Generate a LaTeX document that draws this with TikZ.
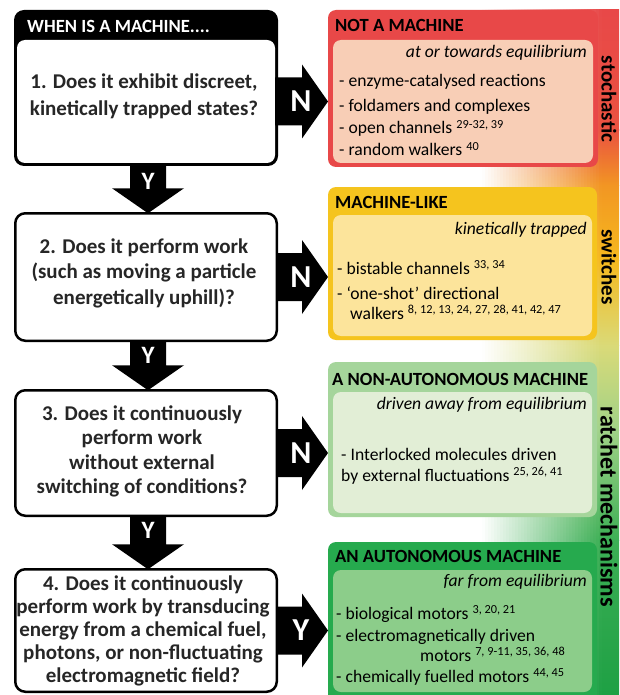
\documentclass[tikz,border=0pt]{standalone}
\usepackage{fontspec}
\setmainfont{Carlito}
\usetikzlibrary{calc}
\definecolor{redO}{RGB}{232,72,72}
\definecolor{redI}{RGB}{248,206,182}
\definecolor{ylwO}{RGB}{245,196,30}
\definecolor{ylwI}{RGB}{252,228,155}
\definecolor{lgrO}{RGB}{165,213,155}
\definecolor{lgrI}{RGB}{226,238,214}
\definecolor{grnO}{RGB}{38,170,78}
\definecolor{grnI}{RGB}{140,205,138}
\definecolor{sA}{RGB}{232,72,72}
\definecolor{sB}{RGB}{234,82,64}
\definecolor{sC}{RGB}{242,150,35}
\definecolor{sD}{RGB}{245,185,30}
\definecolor{sE}{RGB}{218,218,120}
\definecolor{sF}{RGB}{160,210,135}
\definecolor{sG}{RGB}{60,175,85}
\definecolor{sH}{RGB}{30,160,68}
\newcommand{\sref}[1]{{\fontsize{12.3}{13}\selectfont\raisebox{0.45em}{#1}}}
\newcommand{\vblk}[2]{\fill ($(#1)+(-18,0)$) -- ($(#2)+(-18,-25)$) -- ($(#2)+(-36,-25)$) -- (#2) -- ($(#2)+(36,-25)$) -- ($(#2)+(18,-25)$) -- ($(#1)+(18,0)$) -- cycle;}
\newcommand{\hblk}[2]{\fill ($(#1)+(0,-24)$) -- ($(#2)+(-26,-24)$) -- ($(#2)+(-26,-37)$) -- (#2) -- ($(#2)+(-26,37)$) -- ($(#2)+(-26,24)$) -- ($(#1)+(0,24)$) -- cycle;}
\begin{document}
\begin{tikzpicture}[x=1pt,y=-1pt]
\tikzset{
 qbox/.style={draw=black, line width=2.5pt, fill=white, rounded corners=10pt, inner sep=0pt, outer sep=0pt},
 obox/.style={rounded corners=8pt, inner sep=0pt, outer sep=0pt, anchor=north west},
 qtxt/.style={align=center, inner sep=0pt, text=black!85},
 htxt/.style={anchor=west, inner sep=0pt, text height=14pt, text depth=2pt, font=\fontsize{18.6}{22}\selectfont\bfseries},
 stxt/.style={anchor=east, inner sep=0pt, text height=12pt, text depth=4pt, font=\fontsize{17.6}{21}\selectfont\itshape},
 itxt/.style={anchor=west, inner sep=0pt, text height=12pt, text depth=4pt, font=\fontsize{17.6}{21}\selectfont},
 lbl/.style={text=white, inner sep=0pt, font=\fontsize{32}{32}\selectfont\bfseries},
 slbl/.style={text=white, inner sep=0pt, font=\fontsize{25}{25}\selectfont\bfseries},
 side/.style={rotate=-90, inner sep=0pt, font=\fontsize{21}{21}\selectfont\bfseries}
}
\useasboundingbox (0,0) rectangle (619,695);
\fill[white] (0,0) rectangle (619,695);
% side gradient strip
\foreach \ya/\yb/\ca/\cb in {10/130/sA/sB, 130/185/sB/sC, 185/260/sC/sD, 260/345/sD/sE, 345/430/sE/sF, 430/540/sF/sG, 540/695/sG/sH}
  \fill[top color=\ca, bottom color=\cb] (470,\ya) rectangle (619,\yb+0.5);
\fill[white] (460,0) rectangle (482,695);
\foreach \i in {0,...,39}{
  \pgfmathsetmacro\op{1-(\i+0.5)/40}
  \fill[white, fill opacity=\op] ({482+3*\i},0) rectangle ({485+3*\i},695);
}
% right boxes
\node[obox, fill=redO, minimum width=270pt, minimum height=157pt] (r1) at (328,10) {};
\node[obox, fill=redI, minimum width=260pt, minimum height=123pt] (r1i) at (333,40) {};
\node[obox, fill=ylwO, minimum width=269pt, minimum height=153pt] (r2) at (328,187) {};
\node[obox, fill=ylwI, minimum width=259pt, minimum height=121pt] (r2i) at (333,215) {};
\node[obox, fill=lgrO, minimum width=269pt, minimum height=155pt] (r3) at (328,362) {};
\node[obox, fill=lgrI, minimum width=259pt, minimum height=121pt] (r3i) at (333,392) {};
\node[obox, fill=grnO, minimum width=269pt, minimum height=160pt] (r4) at (328,542) {};
\node[obox, fill=grnI, minimum width=259pt, minimum height=122pt] (r4i) at (333,570) {};
% right texts
\node[htxt] (h1) at (335,26) {NOT A MACHINE};
\node[stxt] (s1) at (587,54) {at or towards equilibrium};
\node[itxt] (i11) at (339,83) {- enzyme-catalysed reactions};
\node[itxt] (i12) at (339,108) {- foldamers and complexes};
\node[itxt] (i13) at (339,130) {- open channels \sref{29-32, 39}};
\node[itxt] (i14) at (339,152) {- random walkers \sref{40}};
\node[htxt] (h2) at (335,202) {MACHINE-LIKE};
\node[stxt] (s2) at (587,230) {kinetically trapped};
\node[itxt] (i21) at (337,270) {- bistable channels \sref{33, 34}};
\node[itxt] (i22) at (337,295) {- ‘one-shot’ directional};
\node[itxt] (i23) at (350,315) {walkers \sref{8, 12, 13, 24, 27, 28, 41, 42, 47}};
\node[htxt] (h3) at (332,379) {A NON-AUTONOMOUS MACHINE};
\node[stxt] (s3) at (587,405) {driven away from equilibrium};
\node[itxt] (i31) at (341,456) {- Interlocked molecules driven};
\node[itxt] (i32) at (341,477) {by external fluctuations \sref{25, 26, 41}};
\node[htxt] (h4) at (335,556) {AN AUTONOMOUS MACHINE};
\node[stxt] (s4) at (587,582) {far from equilibrium};
\node[itxt] (i41) at (336,615) {- biological motors \sref{3, 20, 21}};
\node[itxt] (i42) at (336,637) {- electromagnetically driven};
\node[itxt] (i43) at (420,657) {motors \sref{7, 9-11, 35, 36, 48}};
\node[itxt] (i44) at (336,678) {- chemically fuelled motors \sref{44, 45}};
% side labels
\node[side] (sd1) at (609,99) {stochastic};
\node[side] (sd2) at (609,267) {switches};
\node[side, font=\fontsize{24}{24}\selectfont\bfseries] (sd3) at (609,507) {ratchet mechanisms};
% left boxes
\node[fill=black, rounded corners=10pt, inner sep=0pt, minimum width=264pt, minimum height=156pt] (q1h) at (146,88) {};
\node[fill=white, rounded corners=8pt, inner sep=0pt, minimum width=258pt, minimum height=123pt] (q1) at (146,101.5) {};
\node[qbox, minimum width=261.5pt, minimum height=127.5pt] (q2) at (146,277) {};
\node[qbox, minimum width=261.5pt, minimum height=125.5pt] (q3) at (146,453) {};
\node[qbox, minimum width=261.5pt, minimum height=122.5pt] (q4) at (146,630.5) {};
\node[htxt, text=white] (wh) at (27,27) {WHEN IS A MACHINE....};
\node[qtxt, font=\fontsize{21}{27}\selectfont\bfseries] (q1t) at (144,96.5) {1. Does it exhibit discreet,\\kinetically trapped states?};
\node[qtxt, font=\fontsize{21}{25.5}\selectfont\bfseries] (q2t) at (144,273) {2. Does it perform work\\(such as moving a particle\\energetically uphill)?};
\node[qtxt, font=\fontsize{21}{24.3}\selectfont\bfseries] (q3t) at (142,451.5) {3. Does it continuously\\perform work\\without external\\switching of conditions?};
\node[qtxt, font=\fontsize{21}{23}\selectfont\bfseries] (q4t) at (143,631) {4. Does it continuously\\perform work by transducing\\energy from a chemical fuel,\\photons, or non-fluctuating\\electromagnetic field?};
% vertical Y arrows
\coordinate (y1a) at ($(q1h.south)+(2,0)$);
\coordinate (y1b) at ($(q2.north)+(2,0)$);
\coordinate (y2a) at ($(q2.south)+(2,0)$);
\coordinate (y2b) at ($(q3.north)+(2,0)$);
\coordinate (y3a) at ($(q3.south)+(2,0)$);
\coordinate (y3b) at ($(q4.north)+(2,0)$);
\vblk{y1a}{y1b}
\vblk{y2a}{y2b}
\vblk{y3a}{y3b}
\node[slbl] (y1l) at ($(y1a)+(0,15)$) {Y};
\node[slbl] (y2l) at ($(y2a)+(0,15)$) {Y};
\node[slbl] (y3l) at ($(y3a)+(0,15)$) {Y};
% horizontal arrows
\coordinate (t1) at (q1.east -| r1.west);
\coordinate (t2) at (q2.east -| r2.west);
\coordinate (t3) at (q3.east -| r3.west);
\coordinate (t4) at (q4.east -| r4.west);
\hblk{q1.east}{t1}
\hblk{q2.east}{t2}
\hblk{q3.east}{t3}
\hblk{q4.east}{t4}
\node[lbl] (n1) at ($(t1)+(-27,0)$) {N};
\node[lbl] (n2) at ($(t2)+(-27,0)$) {N};
\node[lbl] (n3) at ($(t3)+(-27,0)$) {N};
\node[lbl] (n4) at ($(t4)+(-27,0)$) {Y};
\end{tikzpicture}
\end{document}
